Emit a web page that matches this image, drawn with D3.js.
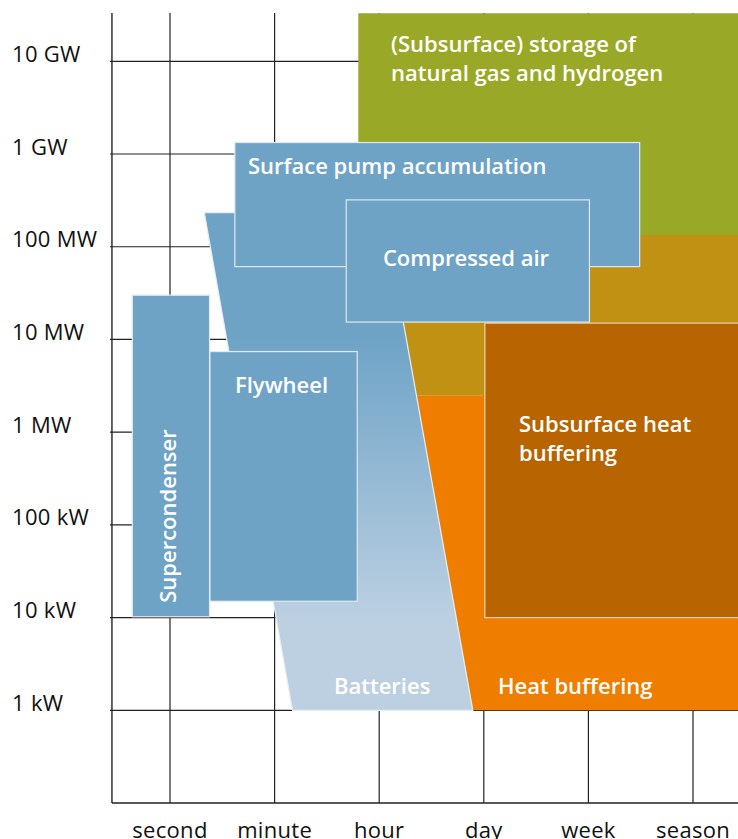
<!DOCTYPE html>
<html>
<head>
<meta charset="utf-8">
<script src="https://cdn.jsdelivr.net/npm/d3@7"></script>
<style>
  body { margin: 0; background: #fff; }
  svg { display: block; font-family: "Open Sans", Roboto, sans-serif; }
  .tick-label { font-size: 22px; letter-spacing: 0.3px; fill: #111; }
  .label { font-size: 22px; font-weight: 600; fill: #fff; }
</style>
</head>
<body>
<div id="chart"></div>
<script>
  // duration categories (x) and power ticks (y, in watts)
  var durations = ['second', 'minute', 'hour', 'day', 'week', 'season'];
  var powerTicks = [1e3, 1e4, 1e5, 1e6, 1e7, 1e8, 1e9, 1e10];
  var powerLabels = ['1 kW', '10 kW', '100 kW', '1 MW', '10 MW', '100 MW', '1 GW', '10 GW'];

  // regions: x in duration index (0 = second), y in watts
  var gasStorage = [[1.80, 3.3e10], [5.5, 3.3e10], [5.5, 1.34e8], [1.80, 1.34e8]];
  var heatUpper = [[2.08, 1.34e8], [5.5, 1.34e8], [5.5, 2.47e6], [2.356, 2.47e6]];
  var heatBuffering = [[2.356, 2.47e6], [5.5, 2.47e6], [5.5, 1e3], [2.895, 1e3]];
  var batteries = [[0.328, 2.33e8], [2.043, 2.33e8], [2.895, 1e3], [1.171, 1e3]];

  // boxes: [x0, x1, yTop, yBottom]
  var subsurfaceHeat = [3.01, 5.5, 1.5e7, 1e4];
  var supercondenser = [-0.36, 0.378, 3.0e7, 1.02e4];
  var flywheel = [0.382, 1.79, 7.4e6, 1.5e4];
  var pumpAccumulation = [0.62, 4.49, 1.33e9, 6.1e7];
  var compressedAir = [1.685, 4.01, 3.2e8, 1.54e7];

  var width = 738;
  var height = 839;

  var x = d3.scaleLinear().domain([0, 5]).range([170, 693]);
  var y = d3.scaleLog().domain([1e3, 1e10]).range([710.3, 61.3]);

  var xAxisPos = x(-0.555);
  var yBottom = y(1e2);
  var yTop = 13;

  var svg = d3.select('#chart').append('svg')
    .attr('width', width)
    .attr('height', height);

  var defs = svg.append('defs');
  var grad = defs.append('linearGradient')
    .attr('id', 'batteryGrad')
    .attr('x1', 0).attr('y1', 0).attr('x2', 0).attr('y2', 1);
  grad.append('stop').attr('offset', 0.25).attr('stop-color', '#6ea3c6');
  grad.append('stop').attr('offset', 0.82).attr('stop-color', '#bdd0e2');

  /* grid */
  var grid = svg.append('g');
  grid.selectAll('.vline')
    .data(durations)
    .enter()
    .append('line')
    .attr('x1', function (d, i) { return x(i); })
    .attr('x2', function (d, i) { return x(i); })
    .attr('y1', yTop)
    .attr('y2', yBottom)
    .attr('stroke', '#222')
    .attr('stroke-width', 1.2);

  grid.selectAll('.hline')
    .data(powerTicks)
    .enter()
    .append('line')
    .attr('x1', xAxisPos - 2)
    .attr('x2', width)
    .attr('y1', function (d) { return y(d); })
    .attr('y2', function (d) { return y(d); })
    .attr('stroke', '#222')
    .attr('stroke-width', 1.2);

  /* axes lines */
  grid.append('line')
    .attr('x1', xAxisPos).attr('x2', xAxisPos)
    .attr('y1', yTop).attr('y2', yBottom)
    .attr('stroke', '#222').attr('stroke-width', 1.4);
  grid.append('line')
    .attr('x1', xAxisPos).attr('x2', width)
    .attr('y1', yBottom).attr('y2', yBottom)
    .attr('stroke', '#222').attr('stroke-width', 1.4);

  var line = d3.line()
    .x(function (d) { return x(d[0]); })
    .y(function (d) { return y(d[1]); })
    .curve(d3.curveLinearClosed);

  function polygon(points, fill, stroke) {
    svg.append('path')
      .datum(points)
      .attr('d', line)
      .attr('fill', fill)
      .attr('stroke', stroke || 'none')
      .attr('stroke-width', 1.2);
  }

  function box(b, fill, stroke) {
    svg.append('rect')
      .attr('x', x(b[0]))
      .attr('y', y(b[2]))
      .attr('width', x(b[1]) - x(b[0]))
      .attr('height', y(b[3]) - y(b[2]))
      .attr('fill', fill)
      .attr('stroke', stroke)
      .attr('stroke-width', 1.2);
  }

  polygon(gasStorage, '#99a927');
  polygon(heatUpper, '#c19114');
  polygon(heatBuffering, '#ef7d00');
  box(subsurfaceHeat, '#b86400', '#e9d3b8');
  polygon(batteries, 'url(#batteryGrad)', '#e6eef5');
  box(supercondenser, '#6ea3c6', '#dfe9f1');
  box(flywheel, '#6ea3c6', '#dfe9f1');
  box(pumpAccumulation, '#6ea3c6', '#dfe9f1');
  box(compressedAir, '#6ea3c6', '#dfe9f1');

  /* tick labels */
  svg.selectAll('.ylab')
    .data(powerLabels)
    .enter()
    .append('text')
    .attr('class', 'tick-label')
    .attr('x', 12)
    .attr('y', function (d, i) { return y(powerTicks[i]) + 0.5; })
    .text(function (d) { return d; });

  svg.selectAll('.xlab')
    .data(durations)
    .enter()
    .append('text')
    .attr('class', 'tick-label')
    .attr('x', function (d, i) { return x(i); })
    .attr('y', 838)
    .attr('text-anchor', 'middle')
    .text(function (d) { return d; });

  /* region labels */
  function label(lines, px, py, anchor) {
    var t = svg.append('text')
      .attr('class', 'label')
      .attr('x', px)
      .attr('y', py)
      .attr('text-anchor', anchor || 'start');
    lines.forEach(function (s, i) {
      t.append('tspan').attr('x', px).attr('dy', i ? 29 : 0).text(s);
    });
  }

  label(['(Subsurface) storage of', 'natural gas and hydrogen'], 391, 52);
  label(['Surface pump accumulation'], 248, 174);
  label(['Compressed air'], 466, 266, 'middle');
  label(['Flywheel'], 235, 393);
  label(['Subsurface heat', 'buffering'], 519, 432);
  label(['Heat buffering'], 498, 694);
  label(['Batteries'], 334, 694);

  svg.append('text')
    .attr('class', 'label')
    .attr('transform', 'translate(176,516) rotate(-90)')
    .attr('text-anchor', 'middle')
    .text('Supercondenser');
</script>
</body>
</html>
